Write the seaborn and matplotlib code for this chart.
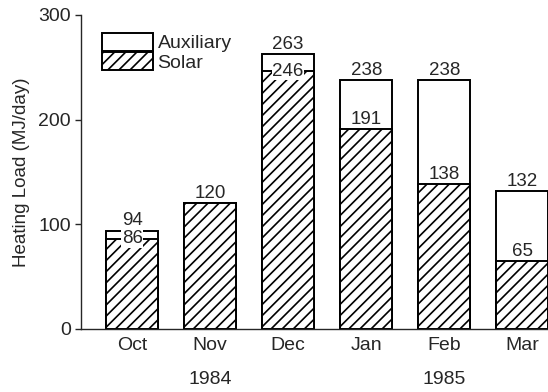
import pandas as pd
import numpy as np
import matplotlib.pyplot as plt
import seaborn as sns
from matplotlib.patches import Patch

# data
months = ["Oct", "Nov", "Dec", "Jan", "Feb", "Mar"]
total_load = [94, 120, 263, 238, 238, 132]   # solar + auxiliary
solar_load = [86, 120, 246, 191, 138, 65]
years = ["1984", "1985"]
year_pos = [1, 4]

sns.set_style("ticks")
plt.rcParams['font.family'] = ['Liberation Sans', 'DejaVu Sans']
plt.rcParams['hatch.linewidth'] = 1.2

df = pd.DataFrame({"month": months, "total": total_load, "solar": solar_load})

fig = plt.figure(figsize=(5.48, 3.92), dpi=100)
ax = fig.add_axes([0.148, 0.161, 0.852, 0.801])

# white total bars, hatched solar bars on top of them
sns.barplot(data=df, x="month", y="total", color="white", edgecolor="black",
            linewidth=1.4, width=0.67, saturation=1, ax=ax)
sns.barplot(data=df, x="month", y="solar", color="white", edgecolor="black",
            linewidth=1.4, width=0.67, saturation=1, hatch="///", ax=ax)

# value labels
fs = 13.5
for i, (t, s) in enumerate(zip(total_load, solar_load)):
    ax.text(i, t + 1, str(t), ha="center", va="bottom", fontsize=fs)
    if t == s:
        continue
    if t - s < 20:
        ax.text(i, s, str(s), ha="center", va="center", fontsize=fs,
                bbox=dict(facecolor="white", edgecolor="none", pad=0.2))
    else:
        ax.text(i, s + 1, str(s), ha="center", va="bottom", fontsize=fs)

ax.set_ylim(0, 300)
ax.set_xlim(-0.654, 5.33)
ax.set_yticks([0, 100, 200, 300])
ax.set_xlabel("")
ax.set_ylabel("Heating Load (MJ/day)", fontsize=13.5, labelpad=6)
ax.tick_params(axis="both", labelsize=14, length=4, width=1)
ax.tick_params(axis="x", length=0, pad=6)
sns.despine(ax=ax)
for sp in ["left", "bottom"]:
    ax.spines[sp].set_linewidth(1.0)

# year labels under the month names
for yl, xp in zip(years, year_pos):
    ax.text(xp, -0.16, yl, transform=ax.get_xaxis_transform(),
            ha="center", va="center", fontsize=14)

handles = [Patch(facecolor="white", edgecolor="black", linewidth=1.4),
           Patch(facecolor="white", edgecolor="black", linewidth=1.4, hatch="///")]
ax.legend(handles, ["Auxiliary", "Solar"], loc="upper left",
          bbox_to_anchor=(0.045, 0.943), frameon=False, fontsize=14,
          handlelength=2.6, handleheight=1.05, labelspacing=0,
          handletextpad=0.25, borderaxespad=0, borderpad=0)

fig.savefig("out.png", dpi=100)
